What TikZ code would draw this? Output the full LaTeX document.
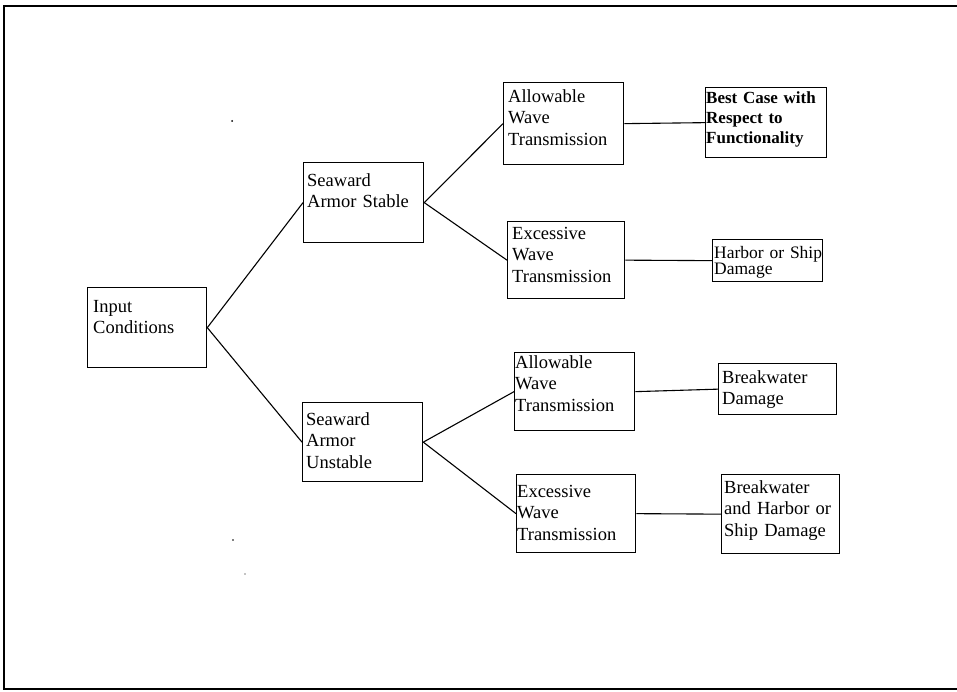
\documentclass[tikz,border=0pt]{standalone}
\usepackage{fontspec}
\setmainfont{Liberation Serif}
\usetikzlibrary{positioning}

\tikzset{
  blk/.style={draw, line width=1.3pt, inner sep=0pt, anchor=north west},
  txt/.style={anchor=north west, inner sep=0pt, align=left, text width=4cm,
    font=\fontsize{18.5}{21.5}\selectfont},
  ln/.style={line width=1.1pt}
}

\begin{document}
\begin{tikzpicture}[x=1pt,y=-1pt]
\useasboundingbox (0,0) rectangle (957,692);

% Frame
\draw[line width=2.5pt] (957,6) -- (4,6) -- (4,689) -- (957,689);

% Boxes
\node[blk, minimum width=119pt, minimum height=80pt] (in)   at (87,287)  {};
\node[blk, minimum width=120pt, minimum height=80pt] (sas)  at (303,162) {};
\node[blk, minimum width=120pt, minimum height=79pt] (sau)  at (302,402) {};
\node[blk, minimum width=120pt, minimum height=82pt] (aw1)  at (503,82)  {};
\node[blk, minimum width=117pt, minimum height=77pt] (ew1)  at (507,221) {};
\node[blk, minimum width=120pt, minimum height=78pt] (aw2)  at (514,352) {};
\node[blk, minimum width=119pt, minimum height=78pt] (ew2)  at (516,474) {};
\node[blk, minimum width=121pt, minimum height=70pt] (best) at (705,87)  {};
\node[blk, minimum width=110pt, minimum height=42pt] (harb) at (712,239) {};
\node[blk, minimum width=118pt, minimum height=51pt] (bwd)  at (718,363) {};
\node[blk, minimum width=118pt, minimum height=79pt] (bwh)  at (721,474) {};

% Texts
\node[txt, text height=25pt] (in-t)  at ([xshift=6pt]in.north west)  {Input\\Conditions};
\node[txt, text height=24pt] (sas-t) at ([xshift=4pt]sas.north west) {Seaward\\Armor Stable};
\node[txt, text height=23pt] (sau-t) at ([xshift=4pt]sau.north west) {Seaward\\Armor\\Unstable};
\node[txt, text height=20pt] (aw1-t) at ([xshift=5pt]aw1.north west) {Allowable\\Wave\\Transmission};
\node[txt, text height=18pt] (ew1-t) at ([xshift=5pt]ew1.north west) {Excessive\\Wave\\Transmission};
\node[txt, text height=16pt] (aw2-t) at ([xshift=1pt]aw2.north west) {Allowable\\Wave\\Transmission};
\node[txt, text height=23pt] (ew2-t) at ([xshift=1pt]ew2.north west) {Excessive\\Wave\\Transmission};
\node[txt, text height=16pt, font=\fontsize{17}{20}\selectfont\bfseries]
  (best-t) at ([xshift=1pt]best.north west) {Best Case with\\Respect to\\Functionality};
\node[txt, text height=19pt, font=\fontsize{17.5}{16.5}\selectfont]
  (harb-t) at ([xshift=2pt]harb.north west) {Harbor or Ship\\Damage};
\node[txt, text height=20pt] (bwd-t) at ([xshift=4pt]bwd.north west) {Breakwater\\Damage};
\node[txt, text height=19pt] (bwh-t) at ([xshift=3pt]bwh.north west) {Breakwater\\and Harbor or\\Ship Damage};

% Connectors
\draw[ln] (in.east) -- (sas.west);
\draw[ln] (in.east) -- (sau.west);
\draw[ln] (sas.east) -- (aw1.west);
\draw[ln] (sas.east) -- (ew1.west);
\draw[ln] (sau.east) -- (aw2.west);
\draw[ln] (sau.east) -- (ew2.west);
\draw[ln] (aw1.east) -- (best.west);
\draw[ln] (ew1.east) -- (harb.west);
\draw[ln] (aw2.east) -- (bwd.west);
\draw[ln] (ew2.east) -- (bwh.west);

% Specks
\fill (232,121) circle (1pt);
\fill (233,540) circle (0.8pt);
\fill (245,574) circle (0.7pt);
\end{tikzpicture}
\end{document}
